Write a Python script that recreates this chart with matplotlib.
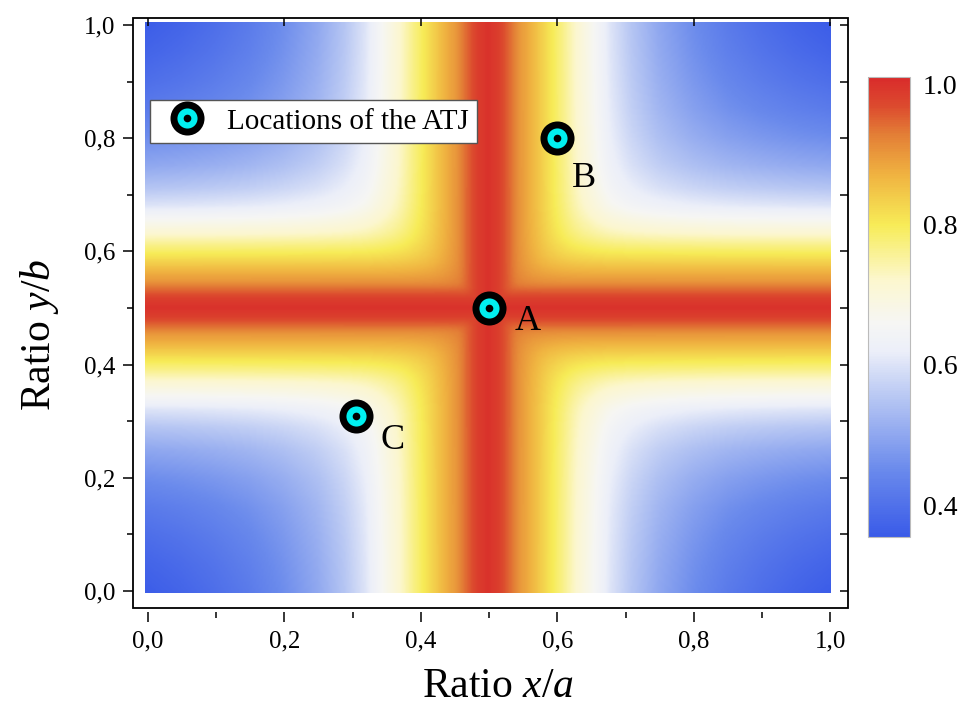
import numpy as np
import matplotlib
matplotlib.use("Agg")
import matplotlib.pyplot as plt
from matplotlib.colors import LinearSegmentedColormap, Normalize
from matplotlib.lines import Line2D
from matplotlib.patches import Rectangle
from matplotlib.ticker import MultipleLocator

plt.rcParams['font.family'] = ['Liberation Serif', 'DejaVu Serif']
plt.rcParams['mathtext.fontset'] = 'custom'
plt.rcParams['mathtext.rm'] = 'Liberation Serif'
plt.rcParams['mathtext.it'] = 'Liberation Serif:italic'

# ---- data ----
# value profile versus distance from the centre line (x/a = 0.5 or y/b = 0.5)
profile_dist = [0.0, 0.015, 0.03, 0.045, 0.07, 0.09, 0.11, 0.13, 0.155, 0.18,
                0.21, 0.25, 0.30, 0.35, 0.40, 0.45, 0.50]
profile_val = [1.0, 0.985, 0.95, 0.905, 0.855, 0.81, 0.765, 0.715, 0.66, 0.60,
               0.55, 0.50, 0.455, 0.42, 0.395, 0.375, 0.36]
corner_blend = 3.0   # how the two bands merge near the quadrant corners

atj_x = [0.5, 0.6, 0.305]
atj_y = [0.5, 0.8, 0.31]
atj_names = ['A', 'B', 'C']

cbar_ticks = [0.4, 0.6, 0.8, 1.0]
vmin, vmax = 0.355, 1.01

cmap_vals = [0.355, 0.45, 0.55, 0.62, 0.66, 0.72, 0.80, 0.87, 0.93, 0.97, 1.01]
cmap_cols = ['#3a5be8', '#6a8aec', '#b5c5f3', '#eceff9', '#f6f6f4', '#fcf7cf',
             '#f7ec57', '#f0b441', '#e37d36', '#dc4a2e', '#d92b2b']

# ---- field ----
n = 400
xs = np.linspace(0, 1, n)
gx = np.interp(np.abs(xs - 0.5), profile_dist, profile_val)
gmin = min(profile_val)
u = np.clip((1 - gx) / (1 - gmin), 1e-6, 1)
UX, UY = np.meshgrid(u, u)
p = corner_blend
UF = (UX ** -p + UY ** -p - 1) ** (-1 / p)
field = 1 - (1 - gmin) * UF

cmap = LinearSegmentedColormap.from_list(
    'atj', [((v - vmin) / (vmax - vmin), c) for v, c in zip(cmap_vals, cmap_cols)])

fig = plt.figure(figsize=(9.66, 7.09), dpi=100)
ax = fig.add_axes([0.1377, 0.1425, 0.7401, 0.8322])
im = ax.imshow(field, origin='lower', extent=[-0.005, 1.0, -0.003, 1.005],
               cmap=cmap, norm=Normalize(vmin, vmax), interpolation='bilinear',
               aspect='auto', zorder=0)
ax.set_xlim(-0.022, 1.026)
ax.set_ylim(-0.03, 1.0124)

for s in ax.spines.values():
    s.set_visible(False)
ax.spines['bottom'].set_position(('outward', 3))
ax.add_patch(Rectangle((0, 0), 1, 1, transform=ax.transAxes, fill=False,
                       lw=1.3, ec='black', clip_on=False, zorder=5))

ax.xaxis.set_major_locator(MultipleLocator(0.2))
ax.xaxis.set_minor_locator(MultipleLocator(0.1))
ax.yaxis.set_major_locator(MultipleLocator(0.2))
ax.yaxis.set_minor_locator(MultipleLocator(0.1))
fmt = lambda v, pos: f"{v:.1f}".replace('.', ',')
ax.xaxis.set_major_formatter(fmt)
ax.yaxis.set_major_formatter(fmt)
ax.tick_params(which='major', direction='out', length=7, width=1.1,
               labelsize=18, pad=6, top=False, right=False)
ax.tick_params(which='minor', direction='out', length=4, width=1.1,
               top=False, right=False)

axr = ax.twinx()
axr.set_ylim(ax.get_ylim())
for s in axr.spines.values():
    s.set_visible(False)
axr.yaxis.set_major_locator(MultipleLocator(0.1))
axr.tick_params(axis='y', direction='in', length=6, width=1.1, labelright=False)
axt = ax.twiny()
axt.set_xlim(ax.get_xlim())
for s in axt.spines.values():
    s.set_visible(False)
axt.xaxis.set_major_locator(MultipleLocator(0.2))
axt.tick_params(axis='x', direction='in', length=6, width=1.1, labeltop=False)

ax.set_xlabel('Ratio $x/a$', fontsize=30, labelpad=11)
ax.set_ylabel('Ratio $y/b$', fontsize=30, labelpad=16)
ax.xaxis.label.set_x(0.51)
ax.yaxis.label.set_y(0.463)

# markers
ax.plot(atj_x, atj_y, 'o', ms=19.5, mfc='#00f0f0', mec='black', mew=5, zorder=6)
ax.plot(atj_x, atj_y, 'o', ms=5.5, mfc='black', mec='black', mew=0, zorder=7)
offsets = {'A': (28, -10), 'B': (19, -29), 'C': (26, -18)}
for x, y, nm in zip(atj_x, atj_y, atj_names):
    ax.annotate(nm, (x, y), xytext=offsets[nm], textcoords='offset points',
                ha='center', va='center', fontsize=26, zorder=8)

h1 = Line2D([], [], ls='none', marker='o', ms=19.5, mfc='#00f0f0', mec='black', mew=5)
h2 = Line2D([], [], ls='none', marker='o', ms=5.5, mfc='black', mec='black', mew=0)
leg = ax.legend([(h1, h2)], ['Locations of the ATJ'], loc='upper left',
                bbox_to_anchor=(0.0238, 0.861), borderaxespad=0, fontsize=21,
                fancybox=False, edgecolor='#555555', framealpha=1,
                handlelength=1.95, handletextpad=0.4, borderpad=0.28)
leg.get_frame().set_linewidth(1.0)
leg.set_zorder(9)

# colorbar
cax = fig.add_axes([0.8986, 0.2426, 0.0435, 0.6488])
cb = fig.colorbar(im, cax=cax, ticks=cbar_ticks)
cb.outline.set_edgecolor('#bbbbbb')
cb.outline.set_linewidth(0.8)
cax.tick_params(length=0, labelsize=20, pad=9)
cb.set_ticklabels([f"{t:.1f}" for t in cbar_ticks])

fig.savefig('out.png', dpi=100)
